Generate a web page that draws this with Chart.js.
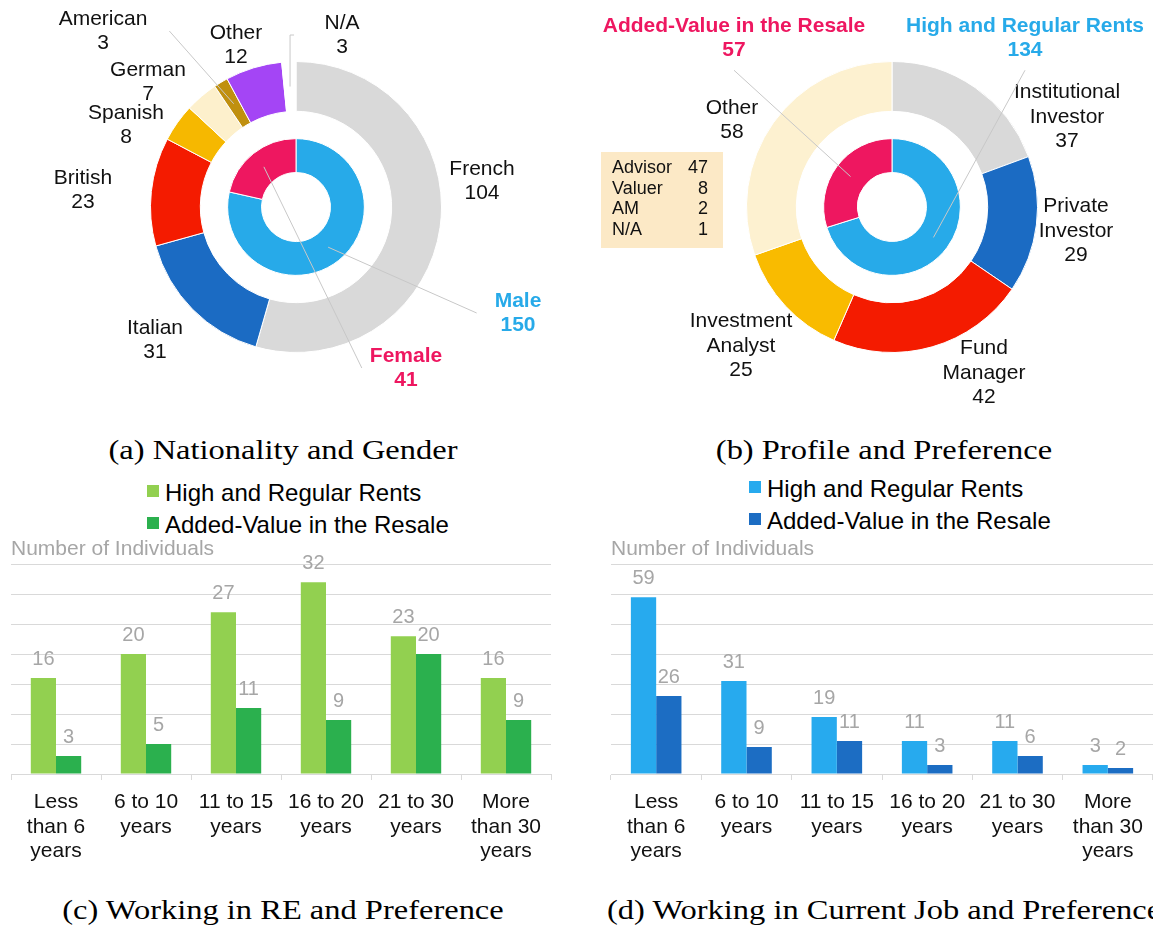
<!DOCTYPE html>
<html>
<head>
<meta charset="utf-8">
<title>Respondents by nationality, profile and experience</title>
<script src="https://cdn.jsdelivr.net/npm/chart.js@4.4.1/dist/chart.umd.min.js"></script>
<style>
  html, body { margin: 0; padding: 0; background: #fff; }
  body { position: relative; width: 1153px; height: 926px; overflow: hidden; }
  canvas { position: absolute; }
  .caption { position: absolute; font-family: 'Liberation Serif', 'Times New Roman', serif; font-size: 28px; line-height: 28px; white-space: nowrap; color: #000; }
  .caption.centered { transform: translateX(-50%) scaleX(1.16); }
  .caption.left { transform-origin: left center; transform: scaleX(1.16); }
  .legend { position: absolute; font-family: 'Liberation Sans', Arial, sans-serif; font-size: 24px; line-height: 32px; color: #000; white-space: nowrap; }
  .legend span { display: inline-block; width: 12px; height: 12px; margin-right: 6px; vertical-align: 4px; }
</style>
</head>
<body>
<canvas id="nationality" width="576" height="420" style="left:0;top:0"></canvas>
<canvas id="profile" width="577" height="420" style="left:576px;top:0"></canvas>
<div class="legend" id="legendRE" style="left:147px;top:477px"></div>
<div class="legend" id="legendJob" style="left:749px;top:473px"></div>
<canvas id="yearsRE" width="576" height="335" style="left:0;top:535px"></canvas>
<canvas id="yearsJob" width="577" height="335" style="left:576px;top:535px"></canvas>

<div class="caption centered" style="left:283px;top:436px">(a) Nationality and Gender</div>
<div class="caption centered" style="left:884px;top:436px">(b) Profile and Preference</div>
<div class="caption centered" style="left:283px;top:896px">(c) Working in RE and Preference</div>
<div class="caption left" style="left:607px;top:896px">(d) Working in Current Job and Preference</div>

<script>
const FONT = "'Liberation Sans', Arial, Helvetica, sans-serif";
Chart.defaults.font.family = FONT;
Chart.defaults.animation = false;

// nationality / gender rings
const nationalities = ['French', 'Italian', 'British', 'Spanish', 'German', 'American', 'Other', 'N/A'];
const nationalityCounts = [104, 31, 23, 8, 7, 3, 12, 3];
const genders = ['Male', 'Female'];
const genderCounts = [150, 41];

// profile / preference rings
const profiles = ['Institutional Investor', 'Private Investor', 'Fund Manager', 'Investment Analyst', 'Other'];
const profileCounts = [37, 29, 42, 25, 58];
const preferences = ['High and Regular Rents', 'Added-Value in the Resale'];
const preferenceCounts = [134, 57];
const otherProfiles = ['Advisor', 'Valuer', 'AM', 'N/A'];
const otherProfileCounts = [47, 8, 2, 1];

// years of experience vs preference
const yearBands = [
  ['Less', 'than 6', 'years'],
  ['6 to 10', 'years'],
  ['11 to 15', 'years'],
  ['16 to 20', 'years'],
  ['21 to 30', 'years'],
  ['More', 'than 30', 'years']
];
const reRents = [16, 20, 27, 32, 23, 16];
const reResale = [3, 5, 11, 9, 20, 9];
const jobRents = [59, 31, 19, 11, 11, 3];
const jobResale = [26, 9, 11, 3, 6, 2];

const BLUE = '#27aae9';
const PINK = '#ee1760';

// label placement around the rings, offsets from the centre
const nationalityCallouts = [
  { ring: 0, index: 0, dx: 186, dy: -26 },
  { ring: 0, index: 1, dx: -141, dy: 133 },
  { ring: 0, index: 2, dx: -213, dy: -17 },
  { ring: 0, index: 3, dx: -170, dy: -82 },
  { ring: 0, index: 4, dx: -148, dy: -125 },
  { ring: 0, index: 5, dx: -193, dy: -176, leader: 'side', gap: 22 },
  { ring: 0, index: 6, dx: -60, dy: -162 },
  { ring: 0, index: 7, dx: 46, dy: -172, leader: 'up' },
  { ring: 2, index: 0, dx: 222, dy: 106, bold: true, color: BLUE, leader: 'side', gap: 18 },
  { ring: 2, index: 1, dx: 110, dy: 161, bold: true, color: PINK, leader: 'side', gap: 8 }
];
const profileCallouts = [
  { ring: 0, index: 0, dx: 175, dy: -90, wrap: true },
  { ring: 0, index: 1, dx: 184, dy: 24, wrap: true },
  { ring: 0, index: 2, dx: 92, dy: 166, wrap: true },
  { ring: 0, index: 3, dx: -151, dy: 139, wrap: true },
  { ring: 0, index: 4, dx: -160, dy: -87 },
  { ring: 2, index: 0, dx: 133, dy: -169, bold: true, color: BLUE, leader: 'below' },
  { ring: 2, index: 1, dx: -158, dy: -169, bold: true, color: PINK, leader: 'below' }
];

const calloutLabels = {
  id: 'calloutLabels',
  afterDatasetsDraw(chart, args, opts) {
    const ctx = chart.ctx;
    const centre = chart.getDatasetMeta(0).data[0];
    const cx = centre.x, cy = centre.y;
    const lh = opts.lineHeight;
    ctx.save();
    ctx.textAlign = 'center';
    ctx.textBaseline = 'middle';
    opts.items.forEach(item => {
      const ds = chart.data.datasets[item.ring];
      const arc = chart.getDatasetMeta(item.ring).data[item.index];
      const name = ds.names[item.index];
      const lines = (item.wrap ? name.split(' ') : [name]).concat(String(ds.data[item.index]));
      ctx.font = (item.bold ? 'bold ' : '') + opts.size + 'px ' + FONT;
      const x = cx + item.dx, y = cy + item.dy;
      const top = y - (lines.length - 1) * lh / 2;
      ctx.fillStyle = item.color || opts.color;
      lines.forEach((t, i) => ctx.fillText(t, x, top + i * lh));

      if (!item.leader) return;
      const w = Math.max(...lines.map(t => ctx.measureText(t).width));
      const p = arc.tooltipPosition();
      ctx.strokeStyle = opts.leaderColor;
      ctx.lineWidth = 1;
      ctx.beginPath();
      ctx.moveTo(p.x, p.y);
      if (item.leader === 'below') {
        ctx.lineTo(x, top + (lines.length - 1) * lh + 20);
      } else if (item.leader === 'up') {
        ctx.lineTo(p.x, y);
        ctx.lineTo(p.x + 4, y);
      } else {
        const ex = p.x < x ? x - w / 2 - item.gap : x + w / 2 + item.gap;
        ctx.lineTo(ex, y);
      }
      ctx.stroke();
    });

    const tb = opts.table;
    if (tb) {
      const bx = cx + tb.dx, by = cy + tb.dy;
      ctx.fillStyle = tb.fill;
      ctx.fillRect(bx, by, tb.width, tb.height);
      ctx.fillStyle = opts.color;
      ctx.font = tb.size + 'px ' + FONT;
      tb.names.forEach((n, i) => {
        const ry = by + 16 + i * 20.7;
        ctx.textAlign = 'left';
        ctx.fillText(n, bx + 11, ry);
        ctx.textAlign = 'right';
        ctx.fillText(String(tb.values[i]), bx + 107, ry);
      });
    }
    ctx.restore();
  }
};

function ringChart(id, outer, inner, padding, callouts, table) {
  return new Chart(document.getElementById(id), {
    type: 'doughnut',
    data: {
      datasets: [
        outer,
        { data: [1], backgroundColor: 'rgba(0,0,0,0)', borderWidth: 0, weight: 27.4 },
        inner
      ]
    },
    options: {
      responsive: false,
      events: [],
      cutout: '23.7%',
      layout: { padding },
      plugins: {
        legend: { display: false },
        tooltip: { enabled: false },
        calloutLabels: { items: callouts, size: 21, lineHeight: 24.5, color: '#111', leaderColor: '#c8c8c8', table }
      }
    },
    plugins: [calloutLabels]
  });
}

ringChart('nationality',
  {
    names: nationalities, data: nationalityCounts, weight: 50, borderWidth: 1, borderColor: '#fff',
    backgroundColor: ['#d9d9d9', '#1b6bc3', '#f41b00', '#f6b800', '#fdf0cc', '#c0900f', '#a445f5', '#ffffff']
  },
  { names: genders, data: genderCounts, weight: 34, borderWidth: 1, borderColor: '#fff', backgroundColor: [BLUE, PINK] },
  { left: 150, top: 61, right: 134, bottom: 67 },
  nationalityCallouts
);

ringChart('profile',
  {
    names: profiles, data: profileCounts, weight: 50, borderWidth: 1, borderColor: '#fff',
    backgroundColor: ['#d9d9d9', '#1b6bc3', '#f41b00', '#f9bb00', '#fdf1d0']
  },
  { names: preferences, data: preferenceCounts, weight: 34, borderWidth: 1, borderColor: '#fff', backgroundColor: [BLUE, PINK] },
  { left: 170, top: 61, right: 115, bottom: 67 },
  profileCallouts,
  { names: otherProfiles, values: otherProfileCounts, dx: -291, dy: -55, width: 122, height: 96, fill: '#fce9c6', size: 18 }
);

const barValues = {
  id: 'barValues',
  afterDatasetsDraw(chart, args, opts) {
    const ctx = chart.ctx;
    ctx.save();
    ctx.font = opts.size + 'px ' + FONT;
    ctx.fillStyle = opts.color;
    ctx.textAlign = 'center';
    ctx.textBaseline = 'middle';
    chart.data.datasets.forEach((ds, i) => {
      chart.getDatasetMeta(i).data.forEach((bar, j) => {
        ctx.fillText(String(ds.data[j]), bar.x, bar.y - opts.offset);
      });
    });
    ctx.restore();
  }
};

function yearsChart(id, legendId, rents, resale, colors, yMax, step, padLeft, padRight) {
  const chart = new Chart(document.getElementById(id), {
    type: 'bar',
    data: {
      labels: yearBands,
      datasets: [
        { label: preferences[0], data: rents, backgroundColor: colors[0] },
        { label: preferences[1], data: resale, backgroundColor: colors[1] }
      ]
    },
    options: {
      responsive: false,
      events: [],
      layout: { padding: { left: padLeft, right: padRight, top: 0, bottom: 0 } },
      datasets: { bar: { categoryPercentage: 0.56, barPercentage: 1 } },
      scales: {
        x: {
          grid: { drawOnChartArea: false, tickLength: 6, color: '#d9d9d9' },
          border: { color: '#d9d9d9' },
          ticks: { color: '#111', font: { size: 21, lineHeight: 1.17 }, padding: 10, maxRotation: 0, autoSkip: false },
          afterFit(scale) { scale.height = 96; }
        },
        y: {
          min: 0, max: yMax,
          ticks: { display: false, stepSize: step },
          grid: { color: '#d9d9d9', drawTicks: false },
          border: { display: false },
          afterFit(scale) { scale.width = 0; }
        }
      },
      plugins: {
        legend: { display: false },
        tooltip: { enabled: false },
        title: {
          display: true, text: 'Number of Individuals', align: 'start', color: '#a6a6a6',
          font: { size: 21, weight: 'normal' }, padding: { top: 2, bottom: 2 }
        },
        barValues: { size: 20, color: '#a6a6a6', offset: 19 }
      }
    },
    plugins: [barValues]
  });

  const box = document.getElementById(legendId);
  chart.data.datasets.forEach(ds => {
    const row = document.createElement('div');
    const sw = document.createElement('span');
    sw.style.background = ds.backgroundColor;
    row.appendChild(sw);
    row.appendChild(document.createTextNode(ds.label));
    box.appendChild(row);
  });
  return chart;
}

yearsChart('yearsRE', 'legendRE', reRents, reResale, ['#92d050', '#2bb04e'], 35, 5, 11, 25);
yearsChart('yearsJob', 'legendJob', jobRents, jobResale, ['#27aaee', '#1c6dc3'], 70, 10, 35, 0);
</script>
</body>
</html>
